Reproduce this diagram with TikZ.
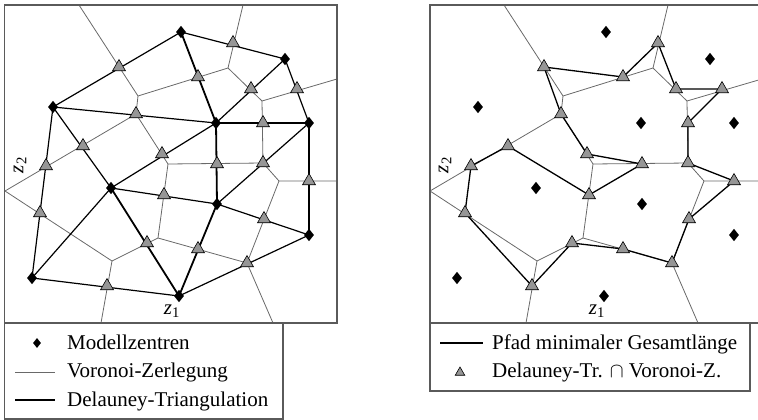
\documentclass[tikz,border=0pt]{standalone}
\usepackage{fontspec}
\setmainfont{Liberation Serif}
\usetikzlibrary{shapes.geometric}
\definecolor{vorgray}{RGB}{105,105,105}
\definecolor{framegray}{RGB}{90,90,90}
\definecolor{trigray}{RGB}{150,150,150}

\tikzset{
  vor/.style={vorgray, line width=0.8pt},
  del/.style={black, line width=1.2pt},
  delbold/.style={black, line width=1.8pt},
  pth/.style={black, line width=1.3pt, line join=round},
  framebox/.style={framegray, line width=1.2pt},
  trimark/.style={regular polygon, regular polygon sides=3, fill=trigray, draw=black, line width=0.6pt, minimum size=15pt, inner sep=0pt, outer sep=0pt},
  trilegend/.style={trimark, minimum size=11pt},
  diamark/.style={diamond, fill=black, minimum width=10pt, minimum height=12.5pt, inner sep=0pt},
  dialegend/.style={diamark, minimum width=8pt, minimum height=10pt},
  legtext/.style={font=\fontsize{21}{25}\selectfont, anchor=base west, inner sep=0pt},
  zlab/.style={font=\fontsize{21}{25}\selectfont, inner sep=0pt},
}

\newcommand{\DefPts}[1]{%
  \coordinate (d1#1) at (181,32);
  \coordinate (d2#1) at (285,59);
  \coordinate (d3#1) at (53,107);
  \coordinate (d4#1) at (216,123);
  \coordinate (d5#1) at (309,123);
  \coordinate (d6#1) at (111,188);
  \coordinate (d7#1) at (217,204);
  \coordinate (d8#1) at (309,235);
  \coordinate (d9#1) at (32,278);
  \coordinate (d10#1) at (179,296);
  \coordinate (t1#1) at (119,67);
  \coordinate (t2#1) at (233,43);
  \coordinate (t3#1) at (198,77);
  \coordinate (t4#1) at (251,89);
  \coordinate (t5#1) at (297,89);
  \coordinate (t6#1) at (136,114);
  \coordinate (t7#1) at (263,123);
  \coordinate (t8#1) at (83,146);
  \coordinate (t9#1) at (162,154);
  \coordinate (t10#1) at (46,166);
  \coordinate (t11#1) at (164,195);
  \coordinate (t12#1) at (217,164);
  \coordinate (t13#1) at (263,163);
  \coordinate (t14#1) at (309,181);
  \coordinate (t15#1) at (40,213);
  \coordinate (t16#1) at (147,243);
  \coordinate (t17#1) at (264,219);
  \coordinate (t18#1) at (198,249);
  \coordinate (t20#1) at (247,263);
  \coordinate (t21#1) at (107,286);
  \coordinate (top1#1) at (79,5);
  \coordinate (top2#1) at (243,5);
  \coordinate (rr1#1) at (337,79);
  \coordinate (rr2#1) at (337,181);
  \coordinate (bb1#1) at (101,323);
  \coordinate (bb2#1) at (273,323);
  \coordinate (ll#1) at (5,191);
  \coordinate (va#1) at (138,96);
  \coordinate (vb#1) at (228,68);
  \coordinate (vc#1) at (262,101);
  \coordinate (vd#1) at (136,114);
  \coordinate (ve#1) at (168,164);
  \coordinate (vf#1) at (263,163);
  \coordinate (vg#1) at (158,238);
  \coordinate (vh#1) at (112,261);
  \coordinate (vi#1) at (247,263);
  \coordinate (vj#1) at (279,181);
}
\newcommand{\VorEdges}[1]{%
  \draw[vor] (top1#1) -- (va#1) -- (vb#1) -- (top2#1);
  \draw[vor] (va#1) -- (vd#1) -- (ll#1) -- (vh#1) -- (bb1#1);
  \draw[vor] (vb#1) -- (vc#1) -- (rr1#1);
  \draw[vor] (vc#1) -- (vf#1) -- (ve#1) -- (vd#1);
  \draw[vor] (vf#1) -- (vj#1) -- (rr2#1);
  \draw[vor] (vj#1) -- (vi#1) -- (bb2#1);
  \draw[vor] (ve#1) -- (vg#1) -- (vh#1);
  \draw[vor] (vg#1) -- (vi#1);
}
\newcommand{\Marks}[1]{%
  \foreach \k in {1,2,3,4,5,6,7,8,9,10,11,12,13,14,15,16,17,18,20,21} {\node[trimark] (T\k#1) at (t\k#1) {};}
  \foreach \k in {1,2,3,4,5,6,7,8,9,10} {\node[diamark] (D\k#1) at (d\k#1) {};}
}

\begin{document}
\begin{tikzpicture}[x=1pt,y=-1pt]
\useasboundingbox (0,0) rectangle (758,420);
\DefPts{l}
\begin{scope}[xshift=425pt]
\DefPts{r}
\end{scope}

% left panel
\VorEdges{l}
\draw[del] (d1l) -- (d3l) -- (d9l) -- (d10l) -- (d8l);
\draw[del] (d1l) -- (d2l) -- (d5l);
\draw[del] (d2l) -- (d4l) -- (d3l) -- (d6l) -- (d4l);
\draw[del] (d6l) -- (d9l);
\draw[del] (d6l) -- (d7l) -- (d5l);
\draw[del] (d7l) -- (d8l);
\draw[delbold] (d1l) -- (d4l) -- (d5l) -- (d8l);
\draw[delbold] (d4l) -- (d7l) -- (d10l) -- (d6l);
\Marks{l}

% right panel
\VorEdges{r}
\draw[pth] (t1r) -- (t3r) -- (t2r) -- (t4r) -- (t5r) -- (t7r) -- (t13r) -- (t14r) -- (t17r) -- (t20r) -- (t18r) -- (t16r) -- (t21r) -- (t15r) -- (t10r) -- (t8r) -- (t11r) -- (t12r) -- (t9r) -- (t6r) -- cycle;
\Marks{r}

% labels
\node[zlab] (z1l) at (172,311) {\textit{z}\textsubscript{1}};
\node[zlab, rotate=90] (z2l) at (20,165) {\textit{z}\textsubscript{2}};
\node[zlab] (z1r) at (597,311) {\textit{z}\textsubscript{1}};
\node[zlab, rotate=90] (z2r) at (445,165) {\textit{z}\textsubscript{2}};

% frames
\draw[framebox] (4.5,5) rectangle (337,323);
\draw[framebox] (430,5) rectangle (762,323);
\draw[framebox] (4.5,323) rectangle (283,419);
\draw[framebox] (430,323) rectangle (750,391);

% legend left
\node[dialegend] (legdia) at (37,343) {};
\node[legtext] (legm) at (67,349) {Modellzentren};
\coordinate (lva) at (15,372.5);
\coordinate (lvb) at (55,372.5);
\draw[vor] (lva) -- (lvb);
\node[legtext] (legv) at (67,377.5) {Voronoi-Zerlegung};
\coordinate (lda) at (15,400);
\coordinate (ldb) at (55,400);
\draw[del] (lda) -- (ldb);
\node[legtext] (legd) at (67,406) {Delauney-Triangulation};

% legend right
\coordinate (lpa) at (440,343);
\coordinate (lpb) at (483,343);
\draw[pth] (lpa) -- (lpb);
\node[legtext] (legp) at (492,349.5) {Pfad minimaler Gesamtlänge};
\node[trilegend] (legtri) at (460,372.5) {};
\node[legtext] (legx) at (492,377.5) {Delauney-Tr. $\cap$ Voronoi-Z.};
\end{tikzpicture}
\end{document}
